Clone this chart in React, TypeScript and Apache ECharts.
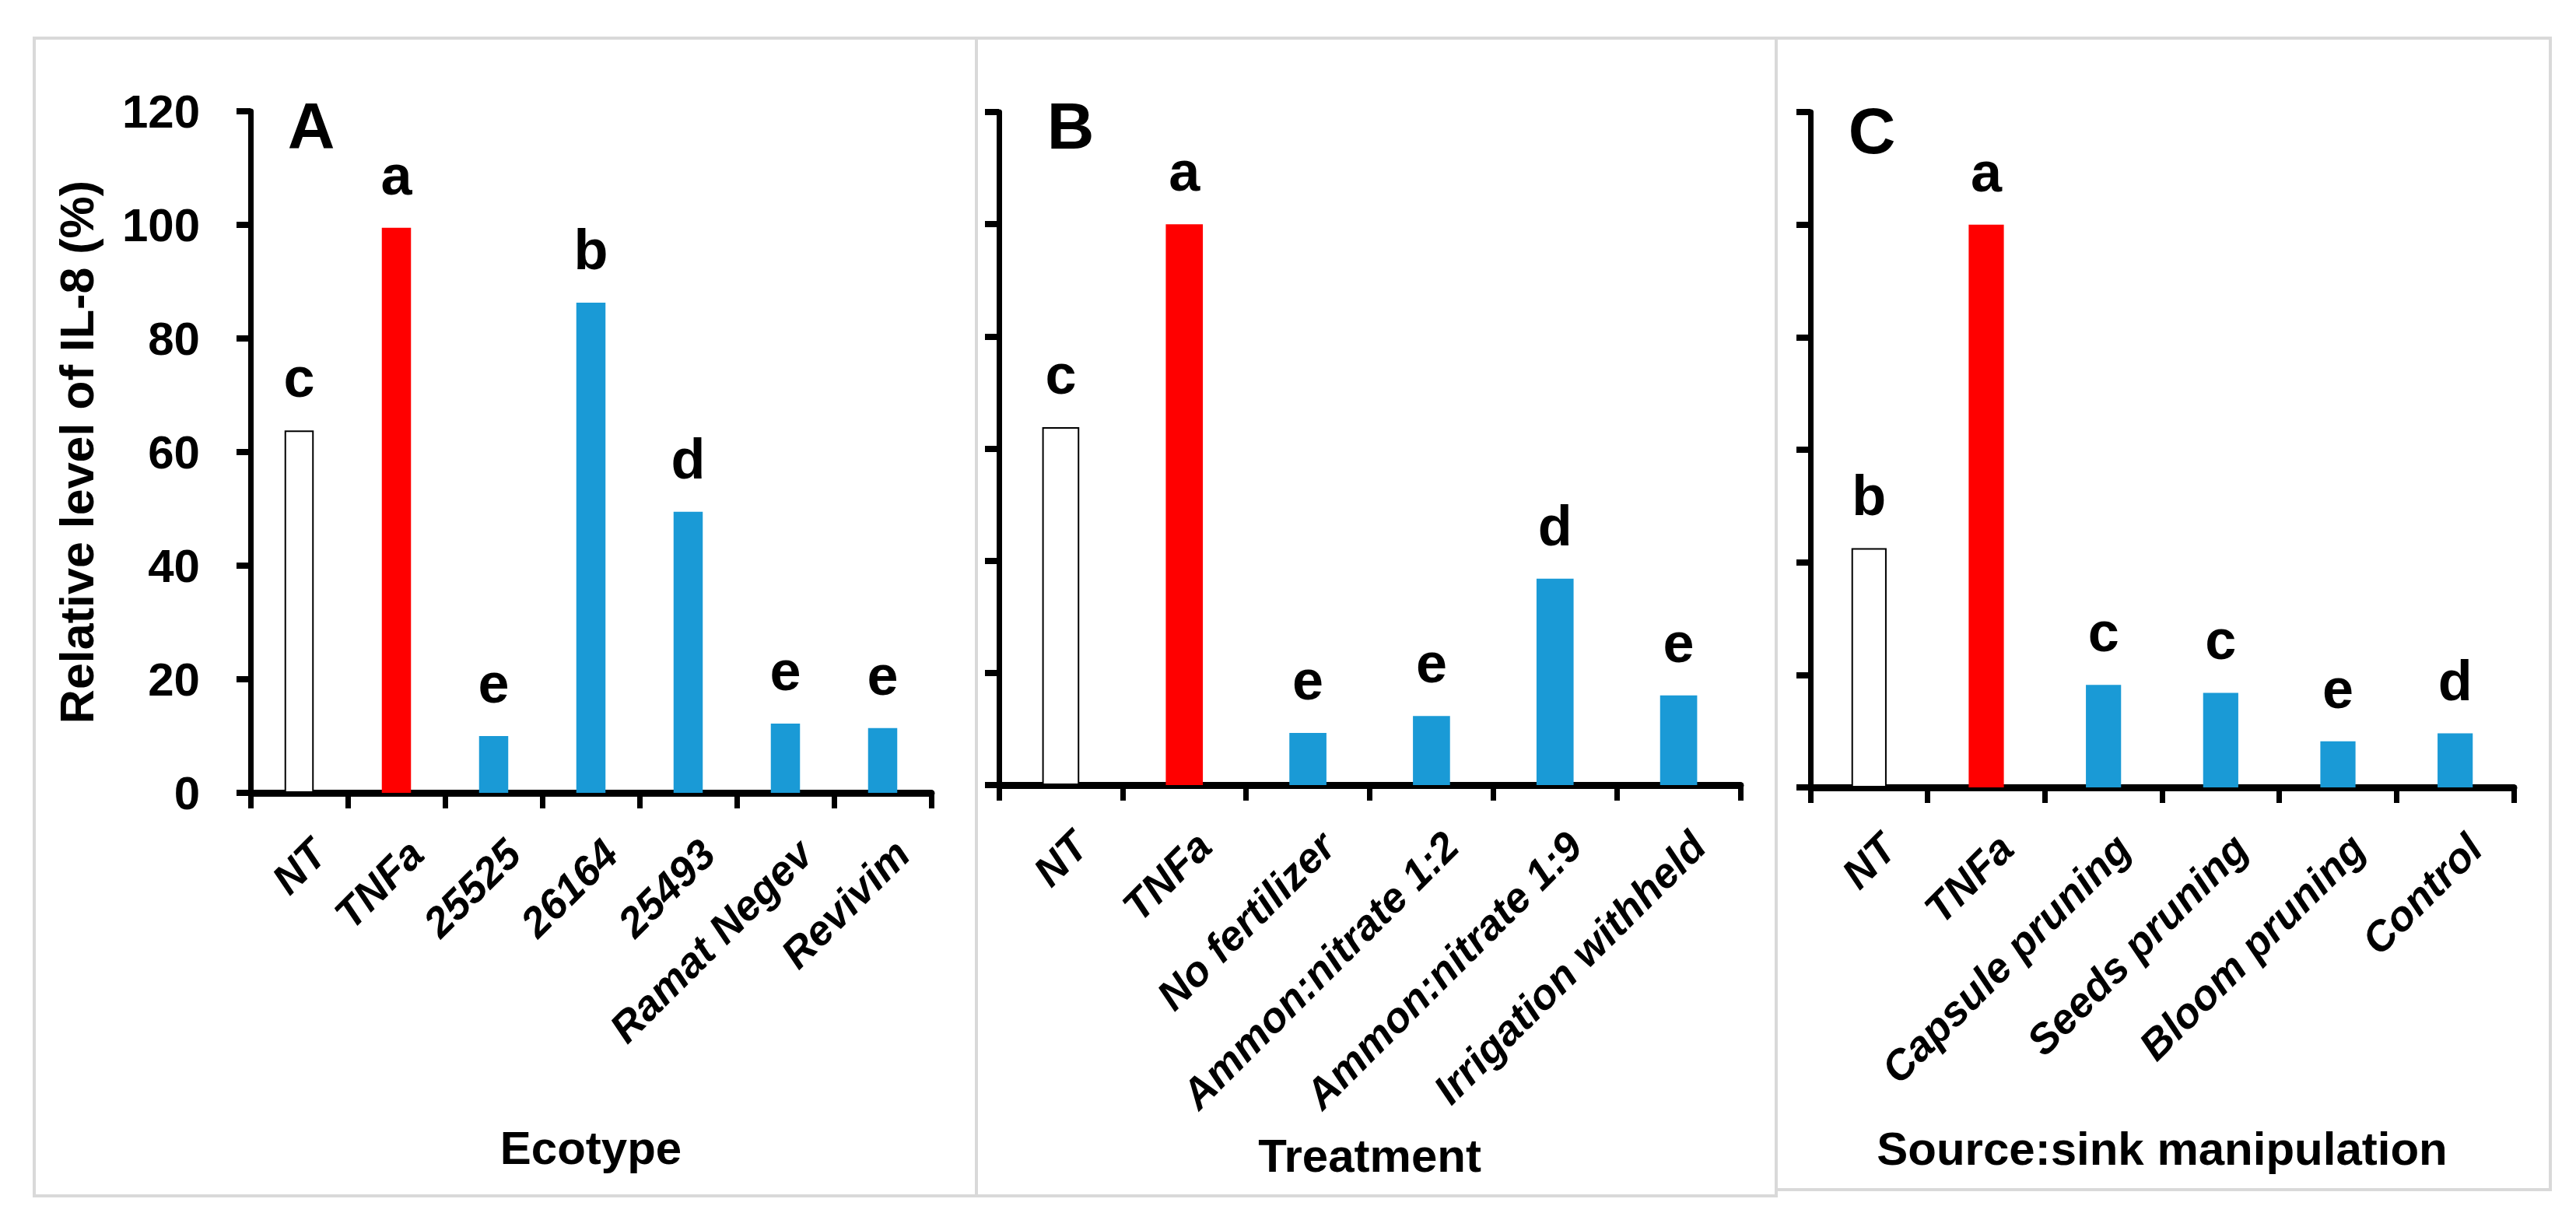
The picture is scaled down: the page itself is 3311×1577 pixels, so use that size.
import React, { useEffect, useRef } from "react";
import * as echarts from "echarts";

const FONT = '"Liberation Sans", Arial, sans-serif';

const catsA = ["NT", "TNFa", "25525", "26164", "25493", "Ramat Negev", "Revivim"];
const valsA = [63.8, 99.5, 10, 86.3, 49.5, 12.2, 11.4];
const lettersA = ["c", "a", "e", "b", "d", "e", "e"];

const catsB = ["NT", "TNFa", "No fertilizer", "Ammon:nitrate 1:2", "Ammon:nitrate 1:9", "Irrigation withheld"];
const valsB = [63.8, 100, 9.3, 12.3, 36.8, 16];
const lettersB = ["c", "a", "e", "e", "d", "e"];

const catsC = ["NT", "TNFa", "Capsule pruning", "Seeds pruning", "Bloom pruning", "Control"];
const valsC = [42.5, 100, 18.2, 16.8, 8.2, 9.6];
const lettersC = ["b", "a", "c", "c", "e", "d"];

const axisTitles = ["Ecotype", "Treatment", "Source:sink manipulation"];
const panelLetters = ["A", "B", "C"];
const yMin = 0;
const yMax = 120;
const yStep = 20;

const RED = "#FF0000";
const BLUE = "#1A9AD6";

function itemStyleFor(i: number) {
  if (i === 0) return { color: "#FFFFFF", borderColor: "#000000", borderWidth: 2 };
  if (i === 1) return { color: RED };
  return { color: BLUE };
}

export default function App() {
  const ref = useRef<HTMLDivElement>(null);
  useEffect(() => {
    if (!ref.current) return;
    const chart = echarts.init(ref.current, undefined, { renderer: "svg" });

    const grids = [
      { left: 322, top: 143, width: 875, height: 876 },
      { left: 1284, top: 144, width: 953, height: 865 },
      { left: 2327, top: 144, width: 904, height: 868 },
    ];
    const nameGaps = [426, 446, 434];
    const cats = [catsA, catsB, catsC];
    const vals = [valsA, valsB, valsC];
    const letters = [lettersA, lettersB, lettersC];

    const xAxes = cats.map((c, i) => ({
      type: "category",
      gridIndex: i,
      data: c,
      boundaryGap: true,
      axisLine: { show: true, lineStyle: { color: "#000", width: 9 } },
      axisTick: { show: true, length: 20, interval: 0, lineStyle: { color: "#000", width: 7 } },
      axisLabel: { show: false },
      name: axisTitles[i],
      nameLocation: "middle",
      nameGap: nameGaps[i],
      nameTextStyle: { fontSize: 60, fontWeight: "bold", fontFamily: FONT, color: "#000", verticalAlign: "top" },
    }));

    const yAxes = [0, 1, 2].map((i) => ({
      type: "value",
      gridIndex: i,
      min: yMin,
      max: yMax,
      interval: yStep,
      axisLine: { show: true, lineStyle: { color: "#000", width: 7 } },
      axisTick: { show: true, length: 18, lineStyle: { color: "#000", width: 8 } },
      splitLine: { show: false },
      axisLabel: {
        show: i === 0,
        margin: 65,
        fontSize: 60,
        fontWeight: "bold",
        fontFamily: FONT,
        color: "#000",
      },
      name: i === 0 ? "Relative level of IL-8 (%)" : "",
      nameLocation: "middle",
      nameGap: 223,
      nameRotate: 90,
      nameTextStyle: {
        fontSize: 61,
        fontWeight: "bold",
        fontFamily: FONT,
        color: "#000",
        align: "center",
        verticalAlign: "middle",
      },
    }));

    const series = vals.map((v, i) => ({
      type: "bar",
      xAxisIndex: i,
      yAxisIndex: i,
      barWidth: "30%",
      data: v.map((val, j) => ({ value: val, itemStyle: itemStyleFor(j) })),
      label: {
        show: true,
        position: "top",
        distance: 32,
        formatter: (p: any) => letters[i][p.dataIndex],
        fontSize: 72,
        fontWeight: "bold",
        fontFamily: FONT,
        color: "#000",
      },
    }));

    const borderStyle = { stroke: "#D9D9D9", lineWidth: 4, fill: "none" };
    const letterPos = [
      [400, 162],
      [1376, 162],
      [2406, 168],
    ];

    const baseGraphic: any[] = [
      { type: "rect", shape: { x: 44, y: 49, width: 1211, height: 1488 }, style: borderStyle, silent: true },
      { type: "rect", shape: { x: 1255, y: 49, width: 1028, height: 1488 }, style: borderStyle, silent: true },
      { type: "rect", shape: { x: 2283, y: 49, width: 995, height: 1480 }, style: borderStyle, silent: true },
      ...panelLetters.map((t, i) => ({
        type: "text",
        x: letterPos[i][0],
        y: letterPos[i][1],
        style: {
          text: t,
          fontSize: 84,
          fontWeight: "bold",
          fontFamily: FONT,
          fill: "#000",
          align: "center",
          verticalAlign: "middle",
        },
      })),
    ];

    chart.setOption({
      animation: false,
      backgroundColor: "#FFFFFF",
      grid: grids,
      xAxis: xAxes,
      yAxis: yAxes,
      series,
      graphic: baseGraphic,
    });

    // Rotated category labels placed through the axes' own scales
    const catLabels: any[] = [];
    cats.forEach((c, i) => {
      const y0 = chart.convertToPixel({ yAxisIndex: i } as any, 0) as number;
      c.forEach((name, j) => {
        const cx = chart.convertToPixel({ xAxisIndex: i } as any, j) as number;
        catLabels.push({
          type: "text",
          x: cx + 6,
          y: y0 + 50,
          rotation: Math.PI / 4,
          style: {
            text: name,
            fontSize: 54,
            fontWeight: "bold",
            fontStyle: "italic",
            fontFamily: FONT,
            fill: "#000",
            align: "right",
            verticalAlign: "top",
          },
        });
      });
    });

    chart.setOption({ graphic: [...baseGraphic, ...catLabels] });

    return () => chart.dispose();
  }, []);
  return <div ref={ref} style={{ position: "fixed", left: 0, top: 0, width: 3311, height: 1577 }} />;
}
